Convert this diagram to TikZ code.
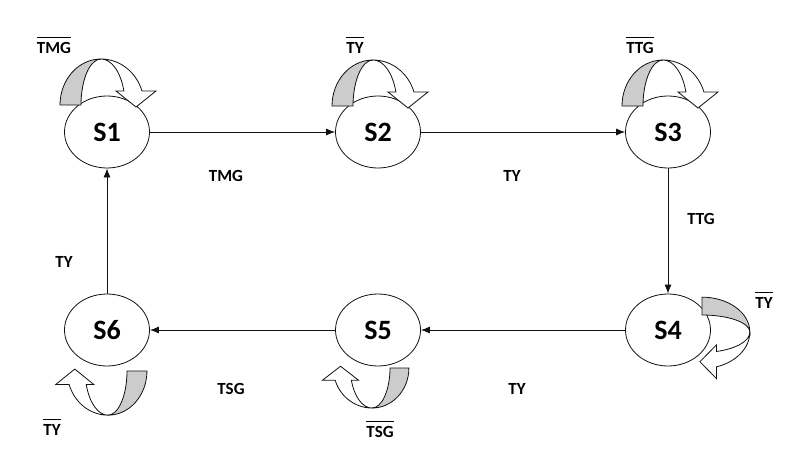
\documentclass[tikz,border=0pt]{standalone}
\usepackage{fontspec}
\setmainfont{Carlito}
\usetikzlibrary{arrows.meta,shapes.geometric}
\definecolor{loopGray}{HTML}{CCCCCC}
\definecolor{stateInk}{HTML}{111111}
\newcommand{\neglabel}[1]{$\overline{\mbox{\rule{0pt}{14pt}#1}}$}

\begin{document}
\begin{tikzpicture}[
  x=1pt,
  y=1pt,
  >=Latex,
  line/.style={-{Latex[length=9pt,width=7pt]}, line width=0.8pt, draw=stateInk},
  state/.style={
    ellipse,
    draw=stateInk,
    line width=0.8pt,
    minimum width=85pt,
    minimum height=72pt,
    inner sep=0pt,
    font=\fontsize{28}{30}\selectfont\bfseries
  },
  lbl/.style={anchor=base, inner sep=0pt, font=\fontsize{17}{19}\selectfont\bfseries},
  loopshade/.style={draw=stateInk, line width=0.8pt, fill=loopGray},
  loopfront/.style={draw=stateInk, line width=0.8pt, fill=white},
  selfloop/.pic={
    \path[loopshade] (-41,0) arc[start angle=180, end angle=90, x radius=41, y radius=46]
      arc[start angle=90, end angle=180, x radius=20, y radius=46] -- cycle;
    \path[loopfront] (0,46) arc[start angle=90, end angle=17.7, x radius=43, y radius=46]
      -- (55,14) -- (35,-2) -- (15,14) -- (22.9,14)
      arc[start angle=17.7, end angle=90, x radius=24, y radius=46] -- cycle;
  }
]
\useasboundingbox (0,0) rectangle (805,-460);

% states
\node[state] (s1) at (107,-132) {S1};
\node[state] (s2) at (378,-132) {S2};
\node[state] (s3) at (668,-132) {S3};
\node[state] (s4) at (668,-330) {S4};
\node[state] (s5) at (378,-330) {S5};
\node[state] (s6) at (107,-330) {S6};

% self loops
\pic at (101,-105) {selfloop};
\pic at (373,-106) {selfloop};
\pic at (663,-106) {selfloop};
\pic[rotate=-90, xscale=0.85, yscale=1.04] at (702,-332) {selfloop};
\pic[rotate=180, xscale=0.9, yscale=0.87] at (372,-368) {selfloop};
\pic[rotate=180, xscale=0.95, yscale=0.96] at (108,-371) {selfloop};

% transitions
\draw[line] (s1) -- (s2);
\draw[line] (s2) -- (s3);
\draw[line] (s3) -- (s4);
\draw[line] (s4) -- (s5);
\draw[line] (s5) -- (s6);
\draw[line] (s6) -- (s1);

\node[lbl] (t12) at (226,-181) {TMG};
\node[lbl] (t23) at (512,-181) {TY};
\node[lbl] (t34) at (701,-224) {TTG};
\node[lbl] (t45) at (517,-394) {TY};
\node[lbl] (t56) at (231,-394) {TSG};
\node[lbl] (t61) at (64,-267) {TY};

% loop labels
\node[lbl] (n1) at (54,-53) {\neglabel{TMG}};
\node[lbl] (n2) at (355,-53) {\neglabel{TY}};
\node[lbl] (n3) at (640,-53) {\neglabel{TTG}};
\node[lbl] (n4) at (764,-308) {\neglabel{TY}};
\node[lbl] (n5) at (380,-437) {\neglabel{TSG}};
\node[lbl] (n6) at (52,-435) {\neglabel{TY}};
\end{tikzpicture}
\end{document}
